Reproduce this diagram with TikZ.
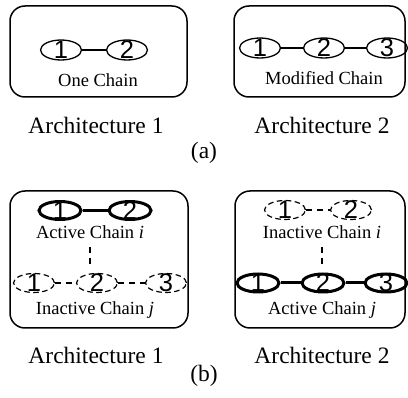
\documentclass[tikz,border=0pt]{standalone}
\usepackage{fontspec}
\setmainfont{Liberation Serif}
\newfontfamily\digitfont{Liberation Sans}
\usetikzlibrary{shapes.geometric}

\tikzset{
  box/.style={draw, line width=1.5pt, rounded corners=15pt},
  cell/.style={ellipse, draw, line width=1.3pt, minimum width=41pt,
               minimum height=20pt, inner sep=0pt},
  boldcell/.style={cell, line width=3pt, minimum width=42pt, minimum height=18pt},
  ghostcell/.style={cell, line width=1.2pt, minimum height=19pt,
                    dash pattern=on 5.5pt off 3.5pt},
  link/.style={line width=1.3pt},
  boldlink/.style={line width=3pt},
  ghostlink/.style={line width=1.2pt, dash pattern=on 6pt off 5pt},
  caption/.style={anchor=base, inner sep=0pt, font=\fontsize{18.5}{22}\selectfont},
  title/.style={anchor=base, inner sep=0pt, font=\fontsize{23.5}{28}\selectfont},
  num/.style={inner sep=0pt, font=\digitfont\fontsize{25.5}{28}\selectfont},
}

\begin{document}
\begin{tikzpicture}[x=1pt, y=-1pt]
\useasboundingbox (0,0) rectangle (408,398);

% ---------- (a) ----------
\draw[box] (10,6) rectangle (187,97);
\draw[box] (234,6) rectangle (405,97);

\node[cell] (a11) at (61,50) {};
\node[cell] (a12) at (127,50) {};
\draw[link] (a11) -- (a12);
\node[caption] (a1cap) at (98,86.5) {One Chain};

\node[cell] (a21) at (260,48) {};
\node[cell] (a22) at (324,48) {};
\node[cell] (a23) at (387,48) {};
\draw[link] (a21) -- (a22);
\draw[link] (a22) -- (a23);
\node[caption] (a2cap) at (324,85) {Modified Chain};

\node[title] (a1title) at (96,134) {Architecture 1};
\node[title] (a2title) at (322,134) {Architecture 2};
\node[title] (atag) at (204,159) {(a)};

% ---------- (b) ----------
\draw[box] (10,191) rectangle (188,328);
\draw[box] (235,191) rectangle (405,328);

% architecture 1: chain i active, chain j inactive
\node[boldcell] (b1i1) at (60,210.5) {};
\node[boldcell] (b1i2) at (130,210.5) {};
\draw[boldlink] (b1i1) -- (b1i2);
\node[caption] (b1icap) at (90,239) {Active Chain \textit{i}};

\coordinate (b1v1) at (90,247.5);
\coordinate (b1v2) at (90,268);
\draw[ghostlink] (b1v1) -- (b1v2);

\node[ghostcell] (b1j1) at (34,283) {};
\node[ghostcell] (b1j2) at (97,283) {};
\node[ghostcell] (b1j3) at (166,283) {};
\draw[ghostlink] (b1j1) -- (b1j2);
\draw[ghostlink] (b1j2) -- (b1j3);
\node[caption] (b1jcap) at (95,315) {Inactive Chain \textit{j}};

% architecture 2: chain i inactive, chain j active
\node[ghostcell] (b2i1) at (285,210) {};
\node[ghostcell] (b2i2) at (351,210) {};
\draw[ghostlink] (b2i1) -- (b2i2);
\node[caption] (b2icap) at (322,238.5) {Inactive Chain \textit{i}};

\coordinate (b2v1) at (322,247.5);
\coordinate (b2v2) at (322,266);
\draw[ghostlink] (b2v1) -- (b2v2);

\node[boldcell] (b2j1) at (258,283) {};
\node[boldcell] (b2j2) at (323,283) {};
\node[boldcell] (b2j3) at (386,283) {};
\draw[boldlink] (b2j1) -- (b2j2);
\draw[boldlink] (b2j2) -- (b2j3);
\node[caption] (b2jcap) at (322,315) {Active Chain \textit{j}};

\node[title] (b1title) at (96,364) {Architecture 1};
\node[title] (b2title) at (322,364) {Architecture 2};
\node[title] (btag) at (204,382) {(b)};

% ---------- cell numbers ----------
\foreach \c/\n in {a11/1, a12/2, a21/1, a22/2, a23/3,
                   b1i1/1, b1i2/2, b1j1/1, b1j2/2, b1j3/3,
                   b2i1/1, b2i2/2, b2j1/1, b2j2/2, b2j3/3}
  \node[num] (\c-num) at (\c.center) {\n};
\end{tikzpicture}
\end{document}
